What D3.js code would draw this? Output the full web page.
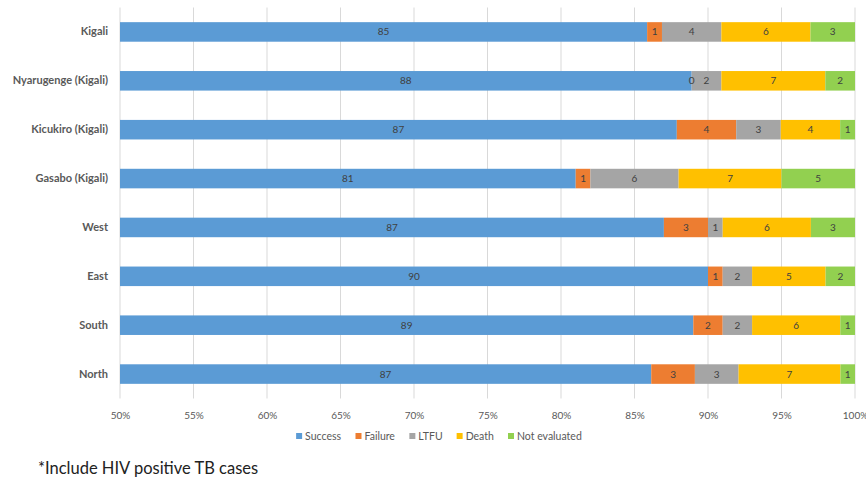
<!DOCTYPE html>
<html>
<head>
<meta charset="utf-8">
<script src="https://cdn.jsdelivr.net/npm/d3@7"></script>
<style>
  html, body { margin: 0; padding: 0; background: #fff; }
  svg { display: block; font-family: Lato, "Open Sans", sans-serif; }
</style>
</head>
<body>
<svg id="chart" width="866" height="478"></svg>
<script>
// Treatment outcomes by area (counts shown as %), drawn as a 100% stacked bar
const categories = ["Kigali", "Nyarugenge (Kigali)", "Kicukiro (Kigali)", "Gasabo (Kigali)", "West", "East", "South", "North"];
const seriesNames = ["Success", "Failure", "LTFU", "Death", "Not evaluated"];
const success      = [85, 88, 87, 81, 87, 90, 89, 87];
const failure      = [1, 0, 4, 1, 3, 1, 2, 3];
const ltfu         = [4, 2, 3, 6, 1, 2, 2, 3];
const death        = [6, 7, 4, 7, 6, 5, 6, 7];
const notEvaluated = [3, 2, 1, 5, 3, 2, 1, 1];
const tickValues = [0.5, 0.55, 0.6, 0.65, 0.7, 0.75, 0.8, 0.85, 0.9, 0.95, 1.0];
const colors = ["#5B9BD5", "#ED7D31", "#A5A5A5", "#FFC000", "#92D050"];
const footnote = "*Include HIV positive TB cases";

const seriesValues = [success, failure, ltfu, death, notEvaluated];
const rows = categories.map((c, i) => {
  const r = { category: c };
  seriesNames.forEach((s, k) => { r[s] = seriesValues[k][i]; });
  return r;
});

const svg = d3.select("#chart");
const margin = { left: 120, right: 11, top: 7.5, bottom: 79.5 };
const W = 866, H = 478;
const plotW = W - margin.left - margin.right;
const plotH = H - margin.top - margin.bottom;

const x = d3.scaleLinear().domain([0.5, 1]).range([margin.left, margin.left + plotW]);
const y = d3.scaleBand().domain(categories).range([margin.top, margin.top + plotH])
  .paddingInner(0.6).paddingOuter(0.3);
const color = d3.scaleOrdinal().domain(seriesNames).range(colors);

const stacked = d3.stack().keys(seriesNames).offset(d3.stackOffsetExpand)(rows);

// vertical gridlines
svg.append("g").selectAll("line").data(tickValues).join("line")
  .attr("x1", d => x(d)).attr("x2", d => x(d))
  .attr("y1", margin.top).attr("y2", margin.top + plotH)
  .attr("stroke", "#d9d9d9").attr("stroke-width", 1);

// x axis labels
const xAxis = d3.axisBottom(x).tickValues(tickValues).tickFormat(d3.format(".0%")).tickSize(0).tickPadding(0);
const gx = svg.append("g").attr("transform", `translate(0,${margin.top + plotH + 13})`).call(xAxis);
gx.select(".domain").remove();
gx.selectAll("text").attr("font-family", "Lato, sans-serif").attr("font-size", 10).attr("fill", "#595959");

// category axis
const yAxis = d3.axisLeft(y).tickSize(0).tickPadding(12);
const gy = svg.append("g").attr("transform", `translate(${margin.left},0)`).call(yAxis);
gy.select(".domain").remove();
gy.selectAll("text").attr("font-family", "Lato, sans-serif").attr("font-size", 11)
  .attr("font-weight", "bold").attr("fill", "#595959");

// clip the bars to the visible domain (axis starts at 50%)
svg.append("clipPath").attr("id", "plotclip").append("rect")
  .attr("x", margin.left).attr("y", margin.top).attr("width", plotW).attr("height", plotH);

const layers = svg.append("g").attr("clip-path", "url(#plotclip)")
  .selectAll("g").data(stacked).join("g").attr("fill", d => color(d.key));

layers.selectAll("rect").data(d => d).join("rect")
  .attr("x", d => x(Math.max(d[0], 0.5)))
  .attr("y", d => y(d.data.category))
  .attr("width", d => Math.max(0, x(d[1]) - x(Math.max(d[0], 0.5))))
  .attr("height", y.bandwidth());

// value labels centred in each segment
const labels = svg.append("g");
stacked.forEach(layer => {
  layer.forEach(d => {
    const x0 = x(Math.max(d[0], 0.5)), x1 = x(d[1]);
    labels.append("text")
      .attr("x", (x0 + x1) / 2)
      .attr("y", y(d.data.category) + y.bandwidth() / 2)
      .attr("dy", "0.35em")
      .attr("text-anchor", "middle")
      .attr("font-size", 10)
      .attr("fill", "#404040")
      .text(d.data[layer.key]);
  });
});

// legend
const legend = svg.append("g").attr("transform", "translate(0,436)");
const items = legend.selectAll("g").data(seriesNames).join("g");
items.append("rect").attr("width", 6).attr("height", 6).attr("y", -3).attr("fill", d => color(d));
items.append("text").attr("x", 9).attr("dy", "0.35em").attr("font-size", 10.5).attr("fill", "#595959").text(d => d);
let widths = [];
items.each(function () { widths.push(this.getBBox().width); });
const gap = 14;
const total = d3.sum(widths) + gap * (widths.length - 1);
let cx = 439 - total / 2;
items.attr("transform", (d, i) => { const t = `translate(${cx},0)`; cx += widths[i] + gap; return t; });

// footnote
svg.append("text").attr("x", 38).attr("y", 468).attr("dy", "0.35em")
  .attr("font-size", 16.5).attr("fill", "#222").text(footnote);
</script>
</body>
</html>
